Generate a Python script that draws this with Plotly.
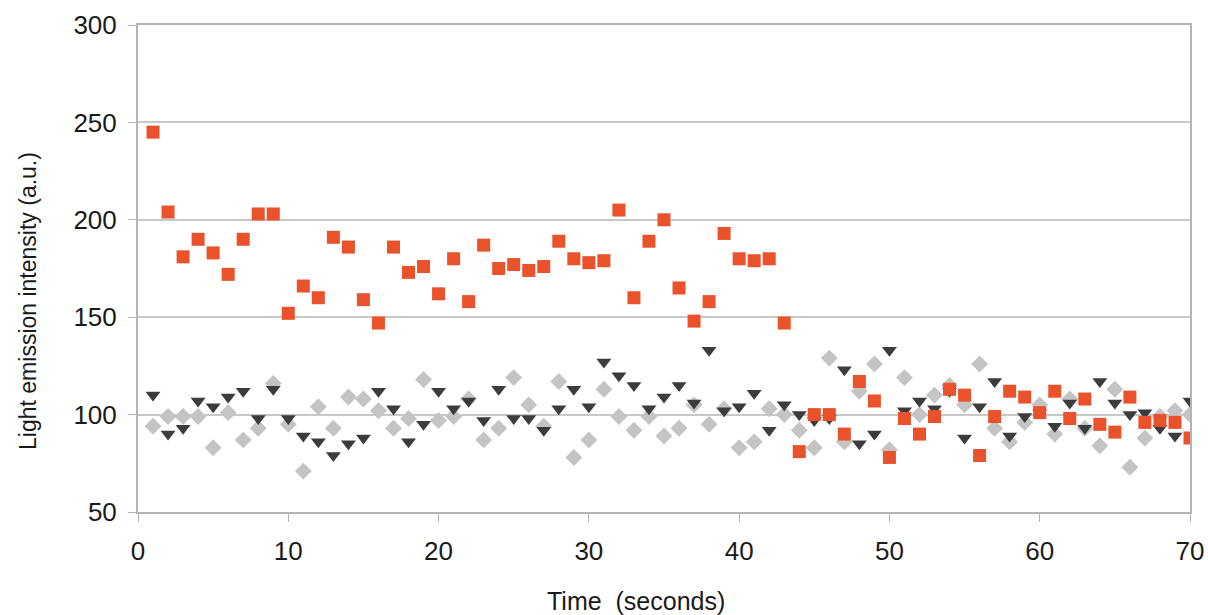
import plotly.graph_objects as go

time_s = list(range(1, 71))

red_series = [245, 204, 181, 190, 183, 172, 190, 203, 203, 152,
              166, 160, 191, 186, 159, 147, 186, 173, 176, 162,
              180, 158, 187, 175, 177, 174, 176, 189, 180, 178,
              179, 205, 160, 189, 200, 165, 148, 158, 193, 180,
              179, 180, 147, 81, 100, 100, 90, 117, 107, 78,
              98, 90, 99, 113, 110, 79, 99, 112, 109, 101,
              112, 98, 108, 95, 91, 109, 96, 97, 96, 88]

dark_series = [110, 90, 93, 107, 104, 109, 112, 98, 113, 98,
               89, 86, 79, 85, 88, 112, 103, 86, 95, 112,
               103, 107, 97, 113, 98, 98, 92, 103, 113, 104,
               127, 120, 115, 103, 109, 115, 106, 133, 102, 104,
               111, 92, 105, 100, 97, 98, 123, 85, 90, 133,
               102, 107, 103, 112, 88, 104, 117, 89, 99, 101,
               94, 106, 93, 117, 106, 100, 101, 93, 89, 107]

light_series = [94, 99, 99, 99, 83, 101, 87, 93, 116, 95,
                71, 104, 93, 109, 108, 102, 93, 98, 118, 97,
                99, 108, 87, 93, 119, 105, 94, 117, 78, 87,
                113, 99, 92, 99, 89, 93, 105, 95, 103, 83,
                86, 103, 100, 92, 83, 129, 86, 112, 126, 82,
                119, 100, 110, 115, 105, 126, 93, 86, 96, 105,
                90, 108, 93, 84, 113, 73, 88, 99, 102, 100]

x_ticks = [0, 10, 20, 30, 40, 50, 60, 70]
y_ticks = [50, 100, 150, 200, 250, 300]
x_title = "Time  (seconds)"
y_title = "Light emission intensity (a.u.)"

fig = go.Figure()
fig.add_trace(go.Scatter(x=time_s, y=light_series, mode="markers",
                         marker=dict(symbol="diamond", size=13, color="#c4c4c4"),
                         showlegend=False))
fig.add_trace(go.Scatter(x=time_s, y=dark_series, mode="markers",
                         marker=dict(symbol="triangle-down", size=13, color="#3c3c3c"),
                         showlegend=False))
fig.add_trace(go.Scatter(x=time_s, y=red_series, mode="markers",
                         marker=dict(symbol="square", size=13, color="#e9522b"),
                         showlegend=False))

fig.update_layout(
    width=1208, height=615,
    margin=dict(l=138, r=18, t=25, b=103),
    paper_bgcolor="white", plot_bgcolor="white",
    font=dict(family="Liberation Sans, Arial, sans-serif", color="#1a1a1a"),
)
fig.update_xaxes(
    range=[0, 70], tickvals=x_ticks, ticktext=[str(v) for v in x_ticks],
    showgrid=False, zeroline=False, automargin=False,
    showline=True, linecolor="#b4b4b4", linewidth=2, mirror=True,
    ticks="outside", ticklen=8, tickcolor="#b4b4b4", tickwidth=1,
    tickfont=dict(size=26),
    ticklabelstandoff=7,
)
fig.update_yaxes(
    range=[50, 300], tickvals=y_ticks, ticktext=[str(v) for v in y_ticks],
    showgrid=True, gridcolor="#c8c8c8", gridwidth=1.5, zeroline=False, automargin=False,
    showline=True, linecolor="#b4b4b4", linewidth=2, mirror=True,
    ticks="outside", ticklen=8, tickcolor="#b4b4b4", tickwidth=1,
    tickfont=dict(size=26),
    ticklabelstandoff=6,
)
fig.add_annotation(text=x_title, xref="paper", yref="paper", x=0.4734, y=-0.1828,
                   xanchor="center", yanchor="middle", showarrow=False,
                   font=dict(size=25))
fig.add_annotation(text=y_title, xref="paper", yref="paper", x=-0.1046, y=0.4333,
                   xanchor="center", yanchor="middle", showarrow=False, textangle=-90,
                   font=dict(size=23))

fig.write_html("out.html", config={"displayModeBar": False},
               post_script="document.body.style.margin='0';document.body.style.overflow='hidden';")
